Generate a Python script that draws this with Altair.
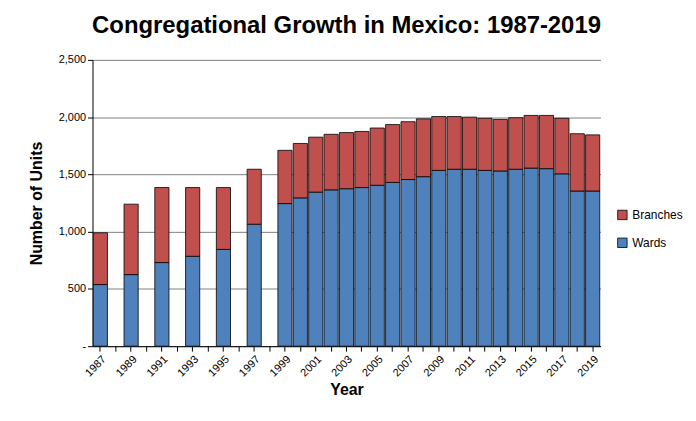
import pandas as pd
import altair as alt

YEARS = [1987, 1989, 1991, 1993, 1995, 1997, 1999, 2000, 2001, 2002, 2003, 2004,
         2005, 2006, 2007, 2008, 2009, 2010, 2011, 2012, 2013, 2014, 2015, 2016,
         2017, 2018, 2019]
TOTAL = [990, 1240, 1385, 1385, 1385, 1545, 1710, 1770, 1825, 1850, 1865, 1875,
         1905, 1935, 1960, 1985, 2005, 2005, 2000, 1990, 1980, 1995, 2015, 2015,
         1990, 1855, 1845]
WARDS = [538, 625, 730, 785, 845, 1065, 1245, 1295, 1345, 1365, 1375, 1385,
         1405, 1430, 1455, 1480, 1535, 1545, 1545, 1535, 1530, 1545, 1555, 1550,
         1505, 1355, 1355]
ALL_YEARS = [str(y) for y in range(1987, 2020)]

rows = []
for y, t, w in zip(YEARS, TOTAL, WARDS):
    rows.append({"year": str(y), "type": "Wards", "value": w, "order": 0})
    rows.append({"year": str(y), "type": "Branches", "value": t - w, "order": 1})
df = pd.DataFrame(rows)

chart = alt.Chart(df).mark_bar(stroke="black", strokeWidth=0.8).encode(
    x=alt.X("year:O", scale=alt.Scale(domain=ALL_YEARS, paddingInner=0.08, paddingOuter=0.05),
            axis=alt.Axis(title="Year", labelAngle=-45, labelExpr="toNumber(datum.value) % 2 == 1 ? datum.value : ''",
                          labelColor="black", titleFontSize=16, titleFontWeight="bold",
                          labelFontSize=11, domainColor="black", tickColor="black")),
    y=alt.Y("value:Q", stack="zero", scale=alt.Scale(domain=[0, 2500]),
            axis=alt.Axis(title="Number of Units", values=[0, 500, 1000, 1500, 2000, 2500],
                          labelExpr="datum.value == 0 ? '-' : format(datum.value, ',')",
                          titleFontSize=16, titleFontWeight="bold", labelFontSize=11, titlePadding=14,
                          gridColor="#808080", domainColor="black", tickColor="black", labelColor="black")),
    color=alt.Color("type:N", scale=alt.Scale(domain=["Branches", "Wards"], range=["#C0504D", "#4F81BD"]),
                    legend=alt.Legend(title=None, symbolType="square", symbolStrokeColor="black",
                                      symbolStrokeWidth=0.8, labelFontSize=12, symbolSize=90, rowPadding=14,
                                      orient="none", legendX=527, legendY=150)),
    order=alt.Order("order:Q"),
).properties(
    width=511, height=288,
    padding={"left": 20, "top": 5, "right": 5, "bottom": 5},
    title=alt.Title("Congregational Growth in Mexico: 1987-2019", fontSize=24, fontWeight="bold",
                    offset=16, anchor="middle"),
).configure(font="Liberation Sans", background="white").configure_view(strokeWidth=0)

chart.save("out.html", embed_options={"renderer": "svg", "actions": False})
